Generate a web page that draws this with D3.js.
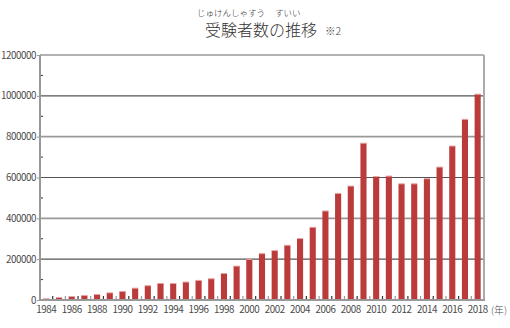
<!DOCTYPE html>
<html lang="ja">
  <head>
    <script src="https://d3js.org/d3.v7.min.js"></script>
    <style>
      body { margin: 0; background: #fff; }
      text { font-family: "Noto Sans CJK JP", "Noto Sans", sans-serif; font-weight: 300; }
      .tick text { fill: #4a4a4a; font-size: 9.8px; letter-spacing: -0.45px; font-weight: 400; }
    </style>
  </head>
  <body>
    <svg width="510" height="328"></svg>
    <script>
      // data
      var years = d3.range(1984, 2019).map(String);
      var counts = [6000, 12000, 17000, 22000, 27000, 35000, 42000, 58000, 70000, 81000,
        81000, 88000, 96000, 104000, 130000, 166000, 199000, 227000, 242000, 268000,
        301000, 356000, 436000, 522000, 558000, 768000, 605000, 607000, 569000, 569000,
        594000, 651000, 754000, 885000, 1008000];
      var yTicks = [0, 200000, 400000, 600000, 800000, 1000000, 1200000];
      var yMinor = [100000, 300000, 500000, 700000, 900000, 1100000];
      var xLabels = years.filter(function (d, i) { return i % 2 === 0; });

      var svg = d3.select("svg");
      var pLeft = 40, pRight = 484, pTop = 55, pBottom = 300;

      var x = d3.scaleBand().domain(years).range([pLeft, pRight]).paddingInner(0.52).paddingOuter(0.26);
      var band = d3.scaleBand().domain(years).range([pLeft, pRight]);
      var y = d3.scaleLinear().domain([0, 1200000]).range([pBottom, pTop]);

      // title
      svg.append("text").attr("x", 197).attr("y", 16).attr("font-size", "8.5px").attr("fill", "#333")
        .text("じゅけんしゃすう");
      svg.append("text").attr("x", 275).attr("y", 16).attr("font-size", "8.5px").attr("fill", "#333")
        .text("すいい");
      svg.append("text").attr("x", 205).attr("y", 36).attr("font-size", "16px").attr("fill", "#333")
        .text("受験者数の推移");
      svg.append("text").attr("x", 325).attr("y", 35).attr("font-size", "10.5px").attr("fill", "#444")
        .text("※2");

      // gridlines
      svg.append("g").selectAll("line").data(yTicks.slice(1)).enter().append("line")
        .attr("x1", pLeft).attr("x2", pRight)
        .attr("y1", function (d) { return y(d); }).attr("y2", function (d) { return y(d); })
        .attr("stroke", function (d, i) { return i % 2 ? "#999" : "#555"; })
        .attr("stroke-width", function (d, i) { return i % 2 ? 1.6 : 1.2; });

      // bars
      svg.append("g").selectAll("rect").data(counts).enter().append("rect")
        .attr("x", function (d, i) { return x(years[i]); })
        .attr("y", function (d) { return y(d); })
        .attr("width", x.bandwidth())
        .attr("height", function (d) { return pBottom - y(d); })
        .attr("fill", "#bb3a3a");
      svg.append("g").selectAll("rect").data(counts).enter().append("rect")
        .attr("x", function (d, i) { return x(years[i]); })
        .attr("y", function (d) { return y(d) - 0.5; })
        .attr("width", x.bandwidth())
        .attr("height", 1)
        .attr("fill", "#e7a3a3");

      // x ticks between bars
      svg.append("g").selectAll("line").data(years.slice(1)).enter().append("line")
        .attr("x1", function (d) { return band(d); }).attr("x2", function (d) { return band(d); })
        .attr("y1", pBottom).attr("y2", pBottom - 4)
        .attr("stroke", function (d, i) { return i % 2 ? "#999" : "#333"; })
        .attr("stroke-width", 1.2);

      // y minor ticks
      svg.append("g").selectAll("line").data(yMinor).enter().append("line")
        .attr("x1", pLeft).attr("x2", pLeft + 3)
        .attr("y1", function (d) { return y(d); }).attr("y2", function (d) { return y(d); })
        .attr("stroke", "#333");

      // y axis
      var ya = svg.append("g").attr("transform", "translate(" + pLeft + ",0)")
        .call(d3.axisLeft(y).tickValues(yTicks).tickSize(3).tickPadding(1).tickFormat(d3.format("d")));
      ya.select(".domain").remove();
      ya.selectAll(".tick line").attr("stroke", "#999");

      // x axis labels
      var xa = svg.append("g").attr("transform", "translate(0," + pBottom + ")")
        .call(d3.axisBottom(band).tickValues(xLabels).tickSize(0).tickPadding(6));
      xa.select(".domain").remove();

      svg.append("text").attr("x", 491).attr("y", 314).attr("font-size", "9.8px").attr("fill", "#4a4a4a")
        .attr("font-weight", 400).text("(年)");

      // frame
      svg.append("line").attr("x1", pLeft).attr("x2", pLeft).attr("y1", pTop).attr("y2", pBottom + 1)
        .attr("stroke", "#999").attr("stroke-width", 2);
      svg.append("line").attr("x1", pRight).attr("x2", pRight).attr("y1", pTop).attr("y2", pBottom + 1)
        .attr("stroke", "#aaa").attr("stroke-width", 2);
      svg.append("line").attr("x1", pLeft - 1).attr("x2", pRight + 1).attr("y1", pBottom).attr("y2", pBottom)
        .attr("stroke", "#999").attr("stroke-width", 2);
    </script>
  </body>
</html>
